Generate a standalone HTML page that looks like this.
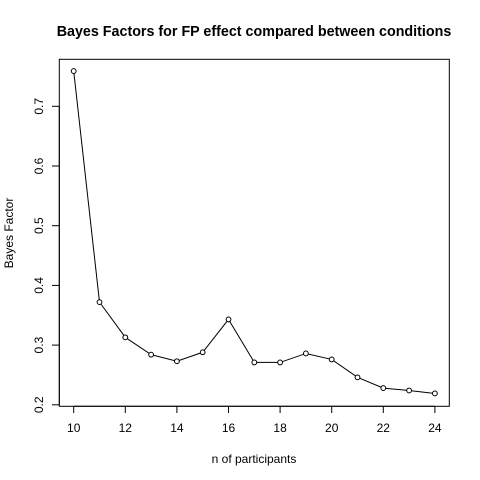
<!DOCTYPE html>
<html><head><meta charset="utf-8"><style>body{margin:0;background:#fff}svg{display:block;font-family:"Liberation Sans",sans-serif}</style></head>
<body>
<svg id="chart" width="480" height="480" viewBox="0 0 480 480">
<rect width="480" height="480" fill="#fff"/>
<text x="254" y="36" text-anchor="middle" font-size="14.3" font-weight="bold">Bayes Factors for FP effect compared between conditions</text>
<rect x="59.3" y="59.3" width="390" height="347" fill="none" stroke="#000"/>
<text x="254" y="463" text-anchor="middle" font-size="12">n of participants</text>
<text transform="translate(13,233) rotate(-90)" text-anchor="middle" font-size="12">Bayes Factor</text>
<g id="ax"></g><g id="marks"></g>
</svg>
<script>
const participants=[10,11,12,13,14,15,16,17,18,19,20,21,22,23,24];
const bayesFactors=[0.759,0.372,0.313,0.284,0.273,0.288,0.343,0.271,0.271,0.286,0.276,0.246,0.228,0.224,0.219];
const xTicks=[10,12,14,16,18,20,22,24];
const yTicks=[0.2,0.3,0.4,0.5,0.6,0.7];
const NS="http://www.w3.org/2000/svg";
function X(v){return 73.7+(v-10)*25.8;}
function Y(v){return 106.3+(0.7-v)*597;}
function mk(t,a,p){const e=document.createElementNS(NS,t);for(const k in a)e.setAttribute(k,a[k]);p.appendChild(e);return e;}
const ax=document.getElementById('ax'),mg=document.getElementById('marks');
mk('line',{x1:X(10),x2:X(24),y1:406.3,y2:406.3,stroke:'#000'},ax);
xTicks.forEach(t=>{const l=mk('line',{x1:X(t),x2:X(t),y1:406.3,y2:413,stroke:'#000'},ax);


const tx=mk('text',{x:X(t),y:432,'text-anchor':'middle','font-size':12},ax);tx.textContent=t;

});
mk('line',{x1:59.3,x2:59.3,y1:Y(0.2),y2:Y(0.7),stroke:'#000'},ax);
yTicks.forEach(t=>{const l=mk('line',{x1:52,x2:59.3,y1:Y(t),y2:Y(t),stroke:'#000'},ax);


const tx=mk('text',{transform:`translate(43,${Y(t)}) rotate(-90)`,'text-anchor':'middle','font-size':12},ax);tx.textContent=t.toFixed(1);

});
const pl=mk('polyline',{points:participants.map((p,i)=>X(p)+','+Y(bayesFactors[i])).join(' '),fill:'none',stroke:'#000'},mg);


participants.forEach((p,i)=>{const c=mk('circle',{cx:X(p),cy:Y(bayesFactors[i]),r:2.4,fill:'#fff',stroke:'#000'},mg);

});
</script>
</body></html>
